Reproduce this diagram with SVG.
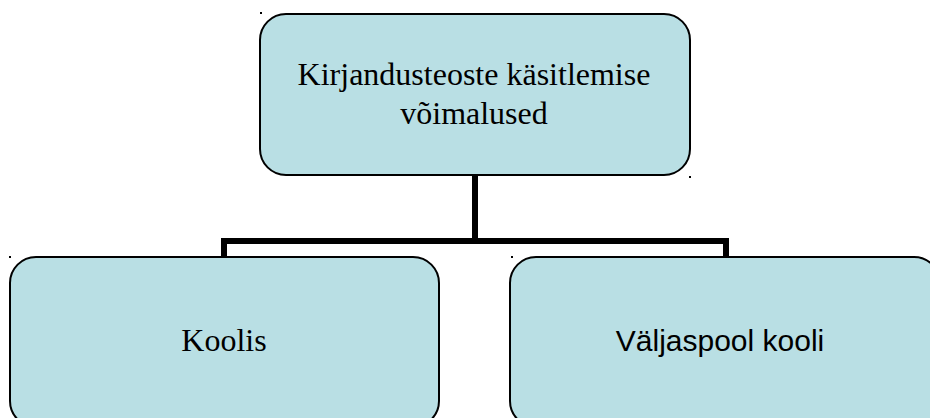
<svg xmlns="http://www.w3.org/2000/svg" width="930" height="418" viewBox="0 0 930 418">
  <style>
    .box { fill: #B9DFE4; stroke: #000; stroke-width: 2; }
    .serif { font-family: "Liberation Serif", "Times New Roman", serif; font-size: 32px; fill: #000; text-anchor: middle; }
    .sans { font-family: "Liberation Sans", Arial, sans-serif; font-size: 30px; fill: #000; text-anchor: middle; }
    .conn { fill: none; stroke: #000; stroke-width: 6; stroke-linejoin: miter; }
    .dot { fill: #000; }
  </style>
  <rect width="930" height="418" fill="#fff"/>
  <g id="connectors">
    <path class="conn" d="M475,176 V241"/>
    <path class="conn" d="M224,257 V241 H726 V257"/>
  </g>
  <g id="node-top">
    <rect class="box" x="260" y="14" width="430" height="161" rx="26" ry="26"/>
    <text class="serif" x="474" y="85">Kirjandusteoste käsitlemise</text>
    <text class="serif" x="474" y="124">võimalused</text>
  </g>
  <g id="node-koolis">
    <rect class="box" x="10" y="257" width="429" height="170" rx="26" ry="26"/>
    <text class="serif" x="224" y="351">Koolis</text>
  </g>
  <g id="node-valjaspool">
    <rect class="box" x="510" y="257" width="430" height="170" rx="26" ry="26"/>
    <text class="sans" x="720" y="351">Väljaspool kooli</text>
  </g>
  <g id="marks">
    <rect class="dot" x="260" y="12" width="2" height="2"/>
    <rect class="dot" x="689" y="176" width="2" height="2"/>
    <rect class="dot" x="9" y="256" width="2" height="2"/>
    <rect class="dot" x="511" y="256" width="2" height="2"/>
  </g>
</svg>
